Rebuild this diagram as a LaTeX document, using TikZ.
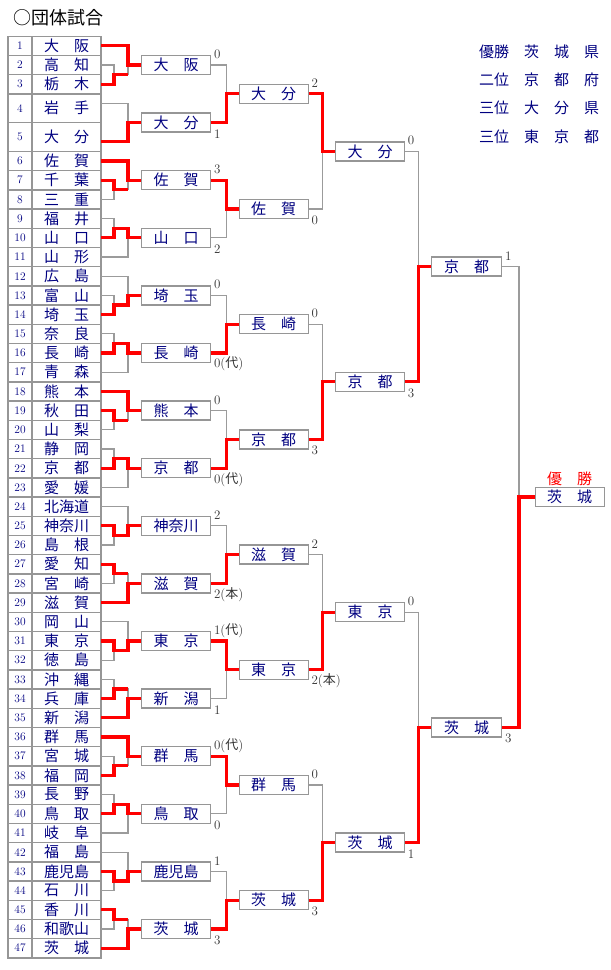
\documentclass[tikz,border=0pt]{standalone}
\usepackage{fontspec}
\newfontfamily\cjk{Noto Sans CJK JP}
\usetikzlibrary{calc, positioning}

\begin{document}
\begin{tikzpicture}[x=1pt, y=-9.6pt,
    numcell/.style={draw=framegray, line width=1.4pt, minimum width=24pt, inner sep=0pt,
        text=teamblue, font=\fontsize{11.5}{11.5}\selectfont},
    namecell/.style={draw=framegray, line width=1.4pt, minimum width=69pt, inner sep=0pt,
        text=teamblue, font=\cjk\fontsize{15}{15}\selectfont},
    teambox/.style={draw=framegray, line width=1.4pt, fill=white, minimum width=69pt,
        minimum height=19pt, inner sep=0pt, text=teamblue, font=\cjk\fontsize{15}{15}\selectfont},
    loser/.style={draw=linegray, line width=1.3pt},
    winner/.style={draw=winred, line width=3.3pt},
    scoreup/.style={anchor=west, inner sep=0pt, xshift=2.5pt, yshift=0.5pt,
        text=scoregray, font=\fontsize{13}{13}\selectfont},
    scoredn/.style={anchor=west, inner sep=0pt, xshift=2.5pt, yshift=-1pt,
        text=scoregray, font=\fontsize{13}{13}\selectfont}]
    % colours
    \definecolor{teamblue}{RGB}{0, 0, 128}
    \definecolor{framegray}{RGB}{150, 150, 150}
    \definecolor{linegray}{RGB}{155, 155, 155}
    \definecolor{winred}{RGB}{255, 0, 0}
    \definecolor{scoregray}{RGB}{50, 50, 50}

    \useasboundingbox (0, -3.771) rectangle (610, 97.27);

    % 1. Title and final ranking
    \node[anchor=west, font=\cjk\fontsize{18}{18}\selectfont] (title) at (10, -1.9) {○団体試合};
    \foreach \i/\txt in {1/優勝　茨　城　県, 2/二位　京　都　府, 3/三位　大　分　県, 4/三位　東　京　都}
        \node[anchor=west, inner sep=0pt, text=teamblue, font=\cjk\fontsize{15}{15}\selectfont]
            (rank\i) at (479, 1.6+2.95*\i-2.95) {\txt};

    % 2. Table of the 47 prefectures
    \foreach \k/\nm in {1/大　阪, 2/高　知, 3/栃　木, 4/岩　手, 5/大　分, 6/佐　賀, 7/千　葉,
        8/三　重, 9/福　井, 10/山　口, 11/山　形, 12/広　島, 13/富　山, 14/埼　玉, 15/奈　良,
        16/長　崎, 17/青　森, 18/熊　本, 19/秋　田, 20/山　梨, 21/静　岡, 22/京　都, 23/愛　媛,
        24/北海道, 25/神奈川, 26/島　根, 27/愛　知, 28/宮　崎, 29/滋　賀, 30/岡　山, 31/東　京,
        32/徳　島, 33/沖　縄, 34/兵　庫, 35/新　潟, 36/群　馬, 37/宮　城, 38/福　岡, 39/長　野,
        40/鳥　取, 41/岐　阜, 42/福　島, 43/鹿児島, 44/石　川, 45/香　川, 46/和歌山, 47/茨　城}{
        \pgfmathtruncatemacro\rtop{\k<4 ? 2*\k-2 : (\k==4 ? 6 : (\k==5 ? 9 : 2*\k))}
        \pgfmathtruncatemacro\rh{(\k==4 || \k==5) ? 3 : 2}
        \pgfmathtruncatemacro\rln{\k<4 ? 2*\k-1 : (\k==4 ? 7 : (\k==5 ? 11 : 2*\k+1))}
        \node[numcell, minimum height=\rh*9.6pt] (c\k) at (20, \rtop+\rh/2) {\k};
        \node[namecell, minimum height=\rh*9.6pt] (r\k) at (66.5, \rtop+\rh/2) {\nm};
        \coordinate (p\k) at (101, \rln);
    }

    % 3. Boxes of each round
    \foreach \i/\nm in {1/大　阪, 2/大　分, 3/佐　賀, 4/山　口, 5/埼　玉, 6/長　崎, 7/熊　本, 8/京　都,
        9/神奈川, 10/滋　賀, 11/東　京, 12/新　潟, 13/群　馬, 14/鳥　取, 15/鹿児島, 16/茨　城}
        \node[teambox] (a\i) at (176.2, 6*\i-3) {\nm};
    \foreach \i/\nm in {1/大　分, 2/佐　賀, 3/長　崎, 4/京　都, 5/滋　賀, 6/東　京, 7/群　馬, 8/茨　城}
        \node[teambox] (b\i) at (273.7, 12*\i-6) {\nm};
    \foreach \i/\nm in {1/大　分, 2/京　都, 3/東　京, 4/茨　城}
        \node[teambox] (c\i) at (370, 24*\i-12) {\nm};
    \node[teambox, minimum width=70pt] (d1) at (466.7, 24) {京　都};
    \node[teambox, minimum width=70pt] (d2) at (466.7, 72) {茨　城};
    \node[teambox] (f) at (569.7, 48) {茨　城};
    \node[above=0.5pt of f, inner sep=0pt, text=winred, font=\cjk\fontsize{15}{15}\selectfont] (champ) {優　勝};

    % 4. First round: table -> boxes
    \draw[loser] (p4) -- ++(27,0) |- (a2.west);
    \draw[winner] (p5) -- ++(27,0) |- (a2.west);
    \foreach \g/\one/\sa/\sb/\sw/\w in {1/1/2/3/3/1, 3/6/7/8/7/6, 4/11/9/10/10/10, 5/12/13/14/14/14,
        6/17/15/16/16/16, 7/18/19/20/19/18, 8/23/21/22/22/22, 9/24/25/26/25/25, 10/29/27/28/27/29,
        11/30/31/32/31/31, 12/35/33/34/34/35, 13/36/37/38/38/36, 14/41/39/40/40/40,
        15/42/43/44/43/43, 16/47/45/46/45/47}{
        \coordinate (s\g) at ($(p\sa)!.5!(p\sb)+(13,0)$);
        \draw[loser] (p\sa) -| (s\g);
        \draw[loser] (p\sb) -| (s\g);
        \draw[loser] (s\g) -- ++(14,0) |- (a\g.west);
        \draw[loser] (p\one) -- ++(27,0) |- (a\g.west);
        \ifnum\w=\one\relax
            \draw[winner] (p\one) -- ++(27,0) |- (a\g.west);
            \draw[winner] (p\sw) -| (s\g) -- ++(14,0);
        \else
            \draw[winner] (p\sw) -| (s\g) -- ++(14,0) |- (a\g.west);
        \fi
    }

    % 5. Later rounds
    \foreach \i in {1,...,16}{
        \pgfmathtruncatemacro\j{(\i+1)/2}
        \draw[loser] (a\i.east) -- ++(14.8,0) |- (b\j.west);
    }
    \foreach \i in {1,...,8}{
        \pgfmathtruncatemacro\j{(\i+1)/2}
        \draw[loser] (b\i.east) -- ++(13.5,0) |- (c\j.west);
    }
    \foreach \i in {1,...,4}{
        \pgfmathtruncatemacro\j{(\i+1)/2}
        \draw[loser] (c\i.east) -- ++(13.2,0) |- (d\j.west);
    }
    \draw[loser] (d1.east) -- ++(16.6,0) |- (f.west);
    \foreach \u/\v/\dx in {a2/b1/14.8, a3/b2/14.8, a6/b3/14.8, a8/b4/14.8, a10/b5/14.8, a11/b6/14.8,
        a13/b7/14.8, a16/b8/14.8, b1/c1/13.5, b4/c2/13.5, b6/c3/13.5, b8/c4/13.5,
        c2/d1/13.2, c4/d2/13.2, d2/f/16.6}
        \draw[winner] (\u.east) -- ++(\dx,0) |- (\v.west);

    % 6. Scores
    \foreach \b/\s in {a1/0, a3/3, a5/0, a7/0, a9/2, a11/1({\cjk 代}), a13/0({\cjk 代}), a15/1,
        b1/2, b3/0, b5/2, b7/0, c1/0, c3/0, d1/1}
        \node[scoreup] (s-\b) at (\b.north east) {\s};
    \foreach \b/\s in {a2/1, a4/2, a6/0({\cjk 代}), a8/0({\cjk 代}), a10/2({\cjk 本}), a12/1, a14/0, a16/3,
        b2/0, b4/3, b6/2({\cjk 本}), b8/3, c2/3, c4/1, d2/3}
        \node[scoredn] (s-\b) at (\b.south east) {\s};
\end{tikzpicture}
\end{document}
